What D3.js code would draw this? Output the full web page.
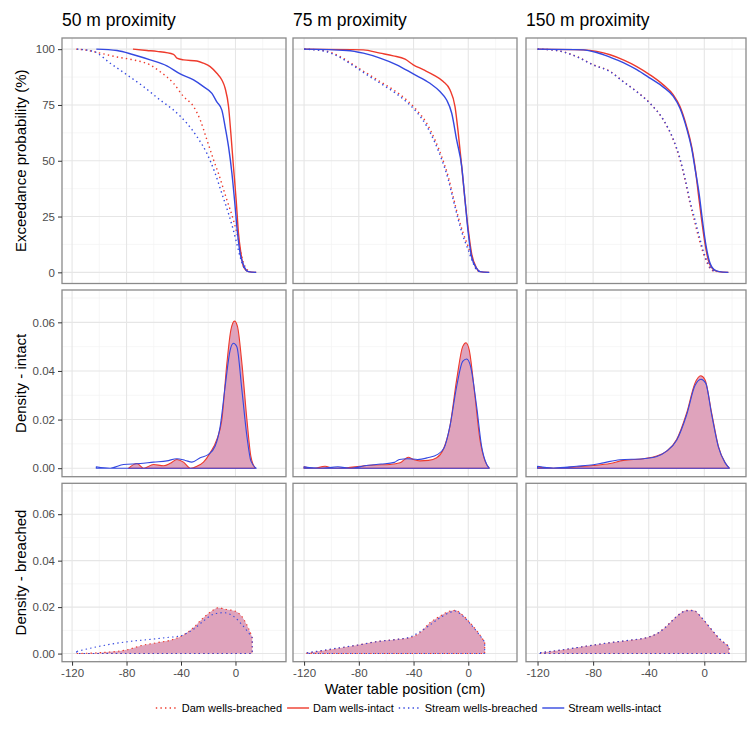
<!DOCTYPE html>
<html><head><meta charset="utf-8">
<script src="https://cdn.jsdelivr.net/npm/d3@7"></script>
<style>body{margin:0;background:#fff}svg{display:block}text{font-family:"Liberation Sans",Arial,sans-serif}</style>
</head><body><svg id="c" width="749" height="741"></svg>
<script>
// ---------------- data ----------------
const columns = ["50 m proximity","75 m proximity","150 m proximity"];
const rowTitles = ["Exceedance probability (%)","Density - intact","Density - breached"];
const seriesNames = ["Dam wells-breached","Dam wells-intact","Stream wells-breached","Stream wells-intact"];
const xTicks = [-120,-80,-40,0];
const xMinor = [-100,-60,-20,20];
const yTicksTop = [0,25,50,75,100];
const yMinorTop = [12.5,37.5,62.5,87.5];
const yTicksDens = [0,0.02,0.04,0.06];
const yMinorDens = [0.01,0.03,0.05,0.07];

// exceedance curves [water table (cm), probability (%)]
const ecdf50_damBreached = [[-117,100],[-110,99.6],[-99.3,98.2],[-87,96.5],[-75,95.2],[-62.6,92.9],[-55.3,89.9],[-45.5,84.7],[-38.2,78.8],[-30.8,74.3],[-25.9,68.3],[-21,59.4],[-16.1,50.4],[-12.5,44.3],[-6.3,32.4],[-1.5,23.4],[2.2,14.5],[4.6,7],[7.1,2.5],[10.8,0.3]];
const ecdf50_damIntact = [[-75.3,100],[-65,99.4],[-57.7,99],[-45.5,97.7],[-43,96],[-38,95.2],[-28.3,94.7],[-23.5,93.7],[-18.6,92.2],[-13.7,89.2],[-10,86.2],[-7.6,82.5],[-5.1,74.3],[-3.4,62.3],[-1.5,47.4],[0.5,32.4],[2.2,17.5],[4,8.5],[5.9,2.5],[9.5,0.3],[15.2,0]];
const ecdf50_streamBreached = [[-116.4,100],[-104.2,99],[-92,93.7],[-79.7,88.5],[-67.5,83.2],[-55.3,77.2],[-45.5,72.7],[-35.7,66.8],[-28.3,60.8],[-21,53.3],[-14.9,44.3],[-10,35.3],[-5.1,26.3],[-1.5,18.8],[1,12.8],[3.4,7],[5.9,2.5],[9.5,0.3]];
const ecdf50_streamIntact = [[-102.2,100],[-87,99.4],[-74.9,97.5],[-62.6,95.2],[-50.4,92.5],[-40.6,88.9],[-30.8,86.2],[-23.5,83.2],[-17.3,80.2],[-13.7,76.4],[-10,72.7],[-7.6,65.2],[-5.1,56.3],[-2.6,44.3],[-0.7,32.4],[1.5,17.5],[3.4,8.5],[5.9,3.3],[9.5,0.3],[15.2,0]];

const ecdf75_damBreached = [[-120,100],[-105.9,99.4],[-93.7,96.7],[-84,93],[-74.2,89.2],[-64.5,85.5],[-54.8,81.8],[-45,77.2],[-37.7,72.7],[-30.4,66.8],[-24.3,59.3],[-19.4,51.8],[-14.6,42.8],[-11,33.8],[-7.3,24.8],[-3.7,17.5],[0,11.4],[3.2,5.4],[6.1,1.3],[8.5,0.3]];
const ecdf75_damIntact = [[-120,100],[-76.7,99.7],[-64.5,98.2],[-54.8,97],[-46.2,95.5],[-40.2,93],[-32.9,90.8],[-25.6,88.5],[-18.3,85.5],[-13.4,81.8],[-9.7,74.3],[-7.3,62.3],[-4.8,47.4],[-2.4,32.4],[0,19],[2.4,8.5],[6.1,1.8],[8.5,0.3],[15.3,0]];
const ecdf75_streamBreached = [[-120,100],[-105.9,99.2],[-93.7,96.3],[-84,92.6],[-74.2,88.6],[-64.5,84.8],[-54.8,81],[-45,76.3],[-37.7,71.8],[-30.4,65.5],[-24.3,58],[-19.4,50.5],[-14.6,41.5],[-11,32.5],[-7.3,23.5],[-3.7,16],[0,10],[3.2,4.6],[6.1,1.1],[8.5,0.3]];
const ecdf75_streamIntact = [[-120,100],[-88.8,99.4],[-76.7,98.2],[-64.5,96],[-52.3,93],[-40.2,88.9],[-28,84.7],[-20.7,81],[-15.8,77.2],[-12.1,71.3],[-8.5,59.3],[-4.8,47.4],[-2.4,32.4],[0,17.5],[2.4,7],[6.1,1.8],[8.5,0.3],[15.3,0]];

const ecdf150_damBreached = [[-120,100],[-106.2,99.4],[-91.8,96.7],[-79.9,93],[-67.8,90],[-58.3,85.5],[-48.6,81],[-39.1,75.8],[-29.5,68.3],[-22.3,59.3],[-17.5,50.4],[-13.9,41.4],[-10.3,30.9],[-6.7,22],[-3.6,14.5],[-0.7,8.5],[2.2,4],[5.3,1],[8.9,0.3]];
const ecdf150_damIntact = [[-120,100],[-87,99.7],[-77.4,99],[-67.8,97.5],[-58.3,95.2],[-48.6,92.2],[-39.1,88.5],[-29.5,84],[-22.3,79.5],[-17.5,74.3],[-12.7,65.3],[-9.1,56.3],[-6.7,47.4],[-4.3,35.3],[-1.9,23.4],[0.5,12.9],[2.9,5.4],[6.5,1.3],[10.1,0.3],[17.3,0]];
const ecdf150_streamBreached = [[-120,100],[-106.2,99.4],[-91.8,96.6],[-79.9,92.9],[-67.8,89.9],[-58.3,85.4],[-48.6,80.9],[-39.1,75.7],[-29.5,68.4],[-22.3,59.6],[-17.5,51],[-13.9,42.2],[-10.3,32],[-6.7,23.5],[-3.6,16],[-0.7,9.5],[2.2,4.6],[5.3,1.3],[8.9,0.3]];
const ecdf150_streamIntact = [[-120,100],[-87,99.7],[-77.4,98.5],[-67.8,96.4],[-58.3,94],[-48.6,90.8],[-39.1,87],[-29.5,83],[-22.3,78.8],[-17.5,73.5],[-12.7,64.5],[-9.1,55.5],[-6.7,46.6],[-3.6,34.6],[-1.2,22.6],[1.2,12.1],[3.6,5.1],[7,1.3],[10.8,0.3],[17.3,0]];

// densities [water table (cm), density]
const densIntact50_dam = [[-78.5,0],[-72.4,0.0019],[-67.5,0],[-60.2,0.0015],[-52.8,0.001],[-47.9,0.002],[-43,0.0036],[-38.2,0.0025],[-33.2,0],[-28.3,0.0008],[-23.5,0.0025],[-18.6,0.0063],[-13.7,0.0118],[-10,0.02],[-6.3,0.0432],[-3.4,0.0568],[-0.7,0.0605],[1.5,0.0582],[4.7,0.0432],[8.4,0.02],[11.3,0.0049],[14.5,0]];
const densIntact50_stream = [[-102.2,0.0006],[-92,0],[-82.2,0.0015],[-70,0.0019],[-60.2,0.0025],[-50.4,0.003],[-43,0.0039],[-36.9,0.0032],[-32,0.0025],[-25.9,0.0043],[-19.8,0.0057],[-14.9,0.0091],[-11.2,0.0173],[-7.6,0.0336],[-3.9,0.0486],[-1.5,0.0514],[1,0.05],[4.7,0.0322],[8.4,0.0131],[11.3,0.003],[15.2,0]];
const densIntact75_dam = [[-120,0.0006],[-113,0],[-104.7,0.0008],[-98.6,0],[-88.8,0.0002],[-79.1,0.0008],[-69.4,0.0013],[-57.2,0.0015],[-49.9,0.0022],[-43.8,0.0045],[-40.2,0.0036],[-35.3,0.003],[-29.2,0.0032],[-23.1,0.0043],[-18.3,0.0077],[-13.4,0.0173],[-8.5,0.0364],[-4.1,0.05],[-1.7,0.0516],[0.7,0.0486],[4.9,0.0295],[8.5,0.0118],[12.2,0.003],[15.3,0]];
const densIntact75_stream = [[-120,0.0006],[-108,0],[-95.3,0.0006],[-85.6,0],[-75.9,0.001],[-63.7,0.0017],[-54,0.0024],[-50.4,0.0036],[-44.3,0.0039],[-37,0.0036],[-29.8,0.0043],[-22.4,0.0057],[-17.6,0.0084],[-13.4,0.0173],[-8.5,0.0336],[-4.1,0.0439],[-1.2,0.0449],[1.7,0.0418],[6.1,0.0254],[9.7,0.0091],[13.4,0.0016],[15.3,0]];
const densIntact150_dam = [[-120,0.0006],[-108.6,0],[-91.8,0.0006],[-79.9,0.0011],[-67.8,0.0019],[-58.3,0.0032],[-43.9,0.0039],[-34.2,0.005],[-27.1,0.007],[-19.9,0.0118],[-12.7,0.0227],[-6.7,0.035],[-2.6,0.038],[0.5,0.0364],[5.3,0.0227],[10.1,0.0091],[14.9,0.0023],[18,0]];
const densIntact150_stream = [[-120,0.0008],[-108.6,0.0001],[-91.8,0.0008],[-79.9,0.0014],[-72.6,0.0022],[-60.8,0.0035],[-43.9,0.0039],[-34.2,0.0048],[-27.1,0.007],[-19.9,0.0115],[-12.7,0.022],[-6.7,0.034],[-2.4,0.0366],[1,0.035],[5.3,0.022],[10.1,0.0088],[14.9,0.0023],[18,0]];

const densBreached50_dam = [[-116.6,0],[-99.4,0.0004],[-79.9,0.0016],[-70.1,0.0033],[-57.8,0.0047],[-48.1,0.0057],[-39.5,0.0076],[-31,0.0111],[-23.6,0.0154],[-17.5,0.0183],[-12.6,0.0197],[-6.5,0.019],[-0.4,0.0183],[4.5,0.0161],[9.4,0.0111],[11.9,0.0076],[12.3,0.007]];
const densBreached50_stream = [[-116.6,0.0009],[-104.3,0.0026],[-92.1,0.004],[-75,0.0054],[-62.7,0.0061],[-50.5,0.0069],[-40.7,0.0076],[-31,0.0104],[-23.6,0.014],[-16.3,0.0169],[-8.9,0.0176],[-1.6,0.0161],[4.5,0.0126],[9.4,0.0091],[12.3,0.0068]];
const densBreached75_dam = [[-118,0.0002],[-101,0.0017],[-81.5,0.0036],[-64.5,0.0054],[-52.3,0.0061],[-42.6,0.0069],[-35.3,0.009],[-28,0.0133],[-20.7,0.0161],[-13.4,0.0183],[-9.7,0.0186],[-4.8,0.0169],[1.2,0.0133],[7.3,0.009],[11.5,0.0054],[12,0.005]];
const densBreached75_stream = [[-118,0.0003],[-101,0.0019],[-81.5,0.0036],[-64.5,0.0053],[-52.3,0.0061],[-42.6,0.0071],[-35.3,0.0094],[-28,0.0123],[-20.7,0.0154],[-13.4,0.0177],[-9.7,0.0183],[-4.8,0.0166],[1.2,0.013],[7.3,0.0087],[12,0.005]];
const densBreached150_dam = [[-118.2,0.0003],[-103.8,0.0014],[-87,0.003],[-67.8,0.0047],[-53.5,0.0057],[-41.4,0.0069],[-34.2,0.0086],[-27.1,0.0119],[-19.9,0.0161],[-12.7,0.0186],[-7.9,0.0186],[-1.9,0.0154],[4.1,0.0111],[11.3,0.0061],[17.3,0.0033],[17.8,0.003]];
const densBreached150_stream = [[-118.2,0.0004],[-103.8,0.0015],[-87,0.003],[-67.8,0.0047],[-53.5,0.0058],[-41.4,0.0069],[-34.2,0.0085],[-27.1,0.0117],[-19.9,0.0159],[-12.7,0.0184],[-7.9,0.0185],[-1.9,0.0155],[4.1,0.0112],[11.3,0.0062],[17.8,0.003]];

// ---------------- layout / style ----------------
const RED = "#ee3a2c", BLUE = "#3448e0", FILL = "#dfa3bc";
const colLayout = [
  {x0:62, x1:286, dom:[-127.4,37.1]},
  {x0:293,x1:517, dom:[-128.1,35.6]},
  {x0:526,x1:746, dom:[-128.3,30.0]}
];
const rowLayout = [
  {y0:38,   y1:283.5, dom:[-5,105],          ticks:yTicksTop,  minor:yMinorTop,  fmt:d=>String(d)},
  {y0:290,  y1:476.7, dom:[-0.0035,0.0733],  ticks:yTicksDens, minor:yMinorDens, fmt:d3.format(".2f")},
  {y0:483.3,y1:661.7, dom:[-0.0035,0.0733],  ticks:yTicksDens, minor:yMinorDens, fmt:d3.format(".2f")}
];
const ecdfData = [
  [ecdf50_damBreached, ecdf50_damIntact, ecdf50_streamBreached, ecdf50_streamIntact],
  [ecdf75_damBreached, ecdf75_damIntact, ecdf75_streamBreached, ecdf75_streamIntact],
  [ecdf150_damBreached, ecdf150_damIntact, ecdf150_streamBreached, ecdf150_streamIntact]
];
const densIntactData = [
  [densIntact50_dam, densIntact50_stream],
  [densIntact75_dam, densIntact75_stream],
  [densIntact150_dam, densIntact150_stream]
];
const densBreachedData = [
  [densBreached50_dam, densBreached50_stream],
  [densBreached75_dam, densBreached75_stream],
  [densBreached150_dam, densBreached150_stream]
];
const seriesStyle = [
  {color:RED,  dash:"1.4,3.2"},
  {color:RED,  dash:null},
  {color:BLUE, dash:"1.4,3.2"},
  {color:BLUE, dash:null}
];

const svg = d3.select("#c");
svg.append("rect").attr("width",749).attr("height",741).attr("fill","#fff");

const TICK_COL = "#4d4d4d";
const TICK_FONT = 11.5;

rowLayout.forEach((R, ri) => {
  colLayout.forEach((C, ci) => {
    const x = d3.scaleLinear().domain(C.dom).range([C.x0, C.x1]);
    const y = d3.scaleLinear().domain(R.dom).range([R.y1, R.y0]);
    const g = svg.append("g");
    g.append("rect").attr("x",C.x0).attr("y",R.y0).attr("width",C.x1-C.x0).attr("height",R.y1-R.y0).attr("fill","#fff");
    // minor grid
    g.selectAll(null).data(xMinor.filter(v=>v>C.dom[0]&&v<C.dom[1])).join("line")
      .attr("x1",d=>x(d)).attr("x2",d=>x(d)).attr("y1",R.y0).attr("y2",R.y1)
      .attr("stroke","#f2f2f2").attr("stroke-width",0.7);
    g.selectAll(null).data(R.minor.filter(v=>v>R.dom[0]&&v<R.dom[1])).join("line")
      .attr("y1",d=>y(d)).attr("y2",d=>y(d)).attr("x1",C.x0).attr("x2",C.x1)
      .attr("stroke","#f2f2f2").attr("stroke-width",0.7);
    // major grid
    g.selectAll(null).data(xTicks).join("line")
      .attr("x1",d=>x(d)).attr("x2",d=>x(d)).attr("y1",R.y0).attr("y2",R.y1)
      .attr("stroke","#e6e6e6").attr("stroke-width",1.1);
    g.selectAll(null).data(R.ticks).join("line")
      .attr("y1",d=>y(d)).attr("y2",d=>y(d)).attr("x1",C.x0).attr("x2",C.x1)
      .attr("stroke","#e6e6e6").attr("stroke-width",1.1);

    if (ri === 0) {
      const line = d3.line().x(d=>x(d[0])).y(d=>y(d[1])).curve(d3.curveMonotoneX);
      ecdfData[ci].forEach((s, si) => {
        g.append("path").attr("d", line(s)).attr("fill","none")
          .attr("stroke", seriesStyle[si].color).attr("stroke-width",1.4)
          .attr("stroke-dasharray", seriesStyle[si].dash);
      });
    } else {
      const area = d3.area().x(d=>x(d[0])).y0(y(0)).y1(d=>y(d[1])).curve(d3.curveMonotoneX);
      const pair = ri === 1 ? densIntactData[ci] : densBreachedData[ci];
      const dash = ri === 1 ? null : "1.4,3.2";
      g.append("path").attr("d", area(pair[0])).attr("fill",FILL)
        .attr("stroke",RED).attr("stroke-width",1.1).attr("stroke-dasharray",dash).attr("stroke-linejoin","round");
      g.append("path").attr("d", area(pair[1])).attr("fill","none")
        .attr("stroke",BLUE).attr("stroke-width",1.1).attr("stroke-dasharray",dash).attr("stroke-linejoin","round");
    }
    // border
    g.append("rect").attr("x",C.x0).attr("y",R.y0).attr("width",C.x1-C.x0).attr("height",R.y1-R.y0)
      .attr("fill","none").attr("stroke","#8a8a8a").attr("stroke-width",1.3);

    // y axis on left column
    if (ci === 0) {
      const ax = svg.append("g").attr("transform",`translate(${C.x0},0)`)
        .call(d3.axisLeft(y).tickValues(R.ticks).tickFormat(R.fmt).tickSizeOuter(0).tickSize(4).tickPadding(3));
      ax.select(".domain").remove();
      ax.selectAll(".tick line").attr("stroke","#333").attr("stroke-width",1);
      ax.selectAll(".tick text").attr("fill",TICK_COL).attr("font-size",TICK_FONT)
        .style("font-family",'"Liberation Sans",Arial,sans-serif');
      svg.append("text").attr("transform",`translate(20,${(R.y0+R.y1)/2}) rotate(-90)`)
        .attr("text-anchor","middle").attr("dominant-baseline","central")
        .attr("font-size",15).attr("fill","#000").text(rowTitles[ri]);
    }
    // x axis on bottom row
    if (ri === 2) {
      const ax = svg.append("g").attr("transform",`translate(0,${R.y1})`)
        .call(d3.axisBottom(x).tickValues(xTicks).tickFormat(d=>String(d)).tickSizeOuter(0).tickSize(4).tickPadding(3));
      ax.select(".domain").remove();
      ax.selectAll(".tick line").attr("stroke","#333").attr("stroke-width",1);
      ax.selectAll(".tick text").attr("fill",TICK_COL).attr("font-size",TICK_FONT)
        .style("font-family",'"Liberation Sans",Arial,sans-serif');
    }
    // column titles
    if (ri === 0) {
      svg.append("text").attr("x",C.x0).attr("y",25.5).attr("font-size",17.5).attr("fill","#000").text(columns[ci]);
    }
  });
});

// x axis title
svg.append("text").attr("x",405).attr("y",693.5).attr("text-anchor","middle").attr("font-size",14.5).attr("fill","#000")
  .text("Water table position (cm)");

// legend
const LEG_Y = 708;
const lg = svg.append("g");
let cx = 0;
seriesNames.forEach((nm, i) => {
  const it = lg.append("g");
  it.append("line").attr("x1",cx).attr("x2",cx+22).attr("y1",LEG_Y).attr("y2",LEG_Y)
    .attr("stroke",seriesStyle[i].color).attr("stroke-width",1.4).attr("stroke-dasharray",seriesStyle[i].dash);
  const t = it.append("text").attr("x",cx+26).attr("y",LEG_Y).attr("dominant-baseline","central")
    .attr("font-size",11).attr("fill","#000").text(nm);
  cx += 26 + t.node().getComputedTextLength() + 5;
});
const totalW = cx - 5;
lg.attr("transform",`translate(${408.5 - totalW/2},0)`);
</script></body></html>
